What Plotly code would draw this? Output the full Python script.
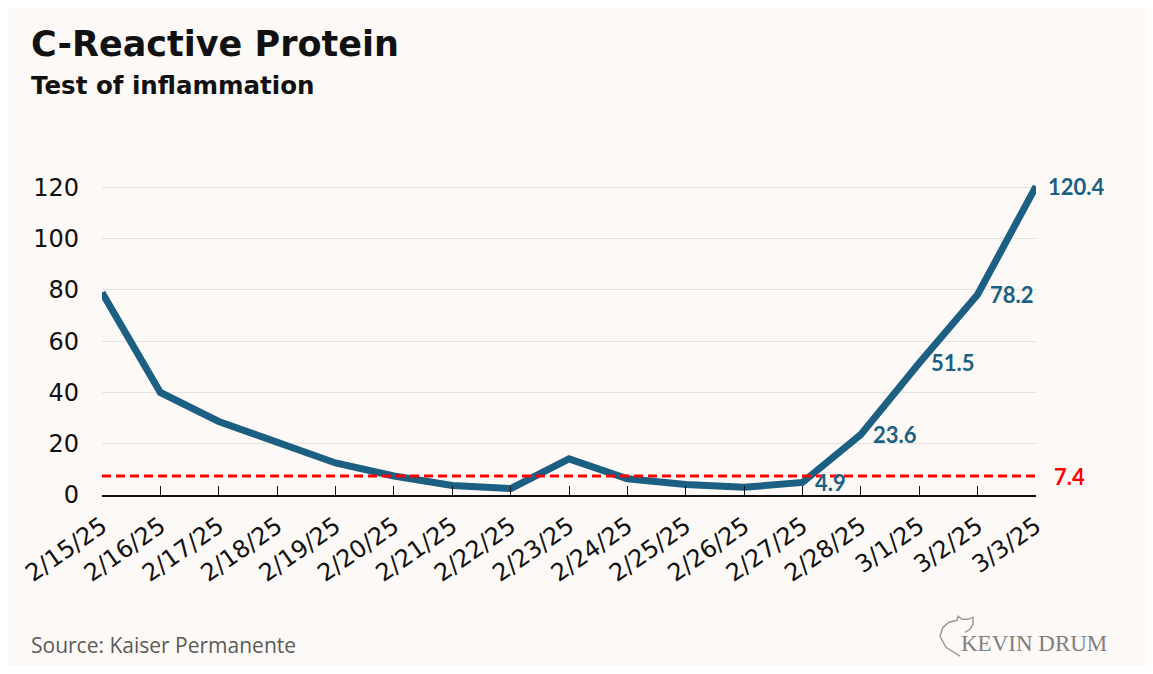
import plotly.graph_objects as go

#############
## DATA    ##
#############
dates = ["2/15/25", "2/16/25", "2/17/25", "2/18/25", "2/19/25", "2/20/25", "2/21/25", "2/22/25",
         "2/23/25", "2/24/25", "2/25/25", "2/26/25", "2/27/25", "2/28/25", "3/1/25", "3/2/25", "3/3/25"]
crp = [79, 40, 28.7, 20.3, 12.5, 7.4, 3.7, 2.5, 14.1, 6.3, 4.1, 3.0, 4.9, 23.6, 51.5, 78.2, 120.4]
labelled = ["2/27/25", "2/28/25", "3/1/25", "3/2/25", "3/3/25"]   # points that get a value label
ref_level = 7.4
y_ticks = [0, 20, 40, 60, 80, 100, 120]

BLUE = "#1b5f82"
BG = "#fdf9f7"

# page body has an 8px margin, so the figure is a bit smaller than the window
W, H = 1137, 658
ML, MR, MT, MB = 94, 109, 164, 170.5
PW, PH = W - ML - MR, H - MT - MB
def px_x(x): return (x - ML) / PW          # figure pixels -> paper coords
def px_y(y): return (H - MB - y) / PH

fig = go.Figure()
fig.add_trace(go.Scatter(x=dates, y=crp, mode="lines", line=dict(color=BLUE, width=7),
                         cliponaxis=False, hoverinfo="x+y", showlegend=False))

# reference line (normal upper limit)
fig.add_shape(type="line", xref="paper", x0=0, x1=1, yref="y", y0=ref_level, y1=ref_level,
              line=dict(color="#ff0000", width=3, dash="9px,5px"), layer="above")
fig.add_annotation(xref="paper", x=1, y=ref_level, text="<b>%s</b>" % ref_level, showarrow=False,
                   xanchor="left", xshift=16, font=dict(size=22, color="#ff0000", family="Lato"))

# value labels
for d, v in zip(dates, crp):
    if d in labelled:
        fig.add_annotation(x=d, y=v, text="<b>%s</b>" % v, showarrow=False, xanchor="left",
                           xshift=10, font=dict(size=22, color=BLUE, family="Lato"))

# titles / footer
fig.add_annotation(xref="paper", yref="paper", x=px_x(21), y=px_y(36), text="<b>C-Reactive Protein</b>",
                   showarrow=False, xanchor="left", yanchor="middle",
                   font=dict(size=35, color="#111", family="DejaVu Sans"))
fig.add_annotation(xref="paper", yref="paper", x=px_x(21), y=px_y(77), text="<b>Test of inflammation</b>",
                   showarrow=False, xanchor="left", yanchor="middle",
                   font=dict(size=24.5, color="#111", family="DejaVu Sans"))
fig.add_annotation(xref="paper", yref="paper", x=px_x(21), y=px_y(638), text="Source: Kaiser Permanente",
                   showarrow=False, xanchor="left", yanchor="middle",
                   font=dict(size=21, color="#5a5a5a", family="Open Sans"))
fig.add_annotation(xref="paper", yref="paper", x=px_x(1101), y=px_y(636), text="KEVIN DRUM",
                   showarrow=False, xanchor="right", yanchor="middle",
                   font=dict(size=23, color="#808080", family="Liberation Serif"))

# little cat outline of the logo
cat = [(952, 649), (938, 640), (932, 629), (935, 620), (941, 615), (949, 613), (950, 609),
       (954, 612), (960, 612), (965, 610), (965, 617), (962, 622), (957, 625)]
path = "M " + " L ".join("%.4f,%.4f" % (px_x(a), px_y(b)) for a, b in cat)
fig.add_shape(type="path", xref="paper", yref="paper", path=path,
              line=dict(color="#9a9a9a", width=1.5))

fig.update_layout(width=W, height=H, paper_bgcolor=BG, plot_bgcolor=BG,
                  margin=dict(l=ML, r=MR, t=MT, b=MB, autoexpand=False), showlegend=False,
                  font=dict(family="DejaVu Sans", color="#111"))
fig.update_xaxes(type="category", categoryorder="array", categoryarray=dates, range=[0, len(dates) - 1],
                 showgrid=False, showline=True, linecolor="#111", linewidth=1.5,
                 ticks="inside", ticklen=9, tickcolor="#111", tickangle=-35, ticklabelstandoff=6,
                 tickfont=dict(size=24, family="DejaVu Sans", color="#111"))
fig.update_yaxes(range=[0, 126], tickvals=y_ticks, showgrid=True, gridcolor="#e4e2e0", gridwidth=1,
                 zeroline=False, showline=False, ticks="", ticklabelstandoff=22,
                 tickfont=dict(size=24, family="DejaVu Sans", color="#111"))

fig.write_html("out.html")
